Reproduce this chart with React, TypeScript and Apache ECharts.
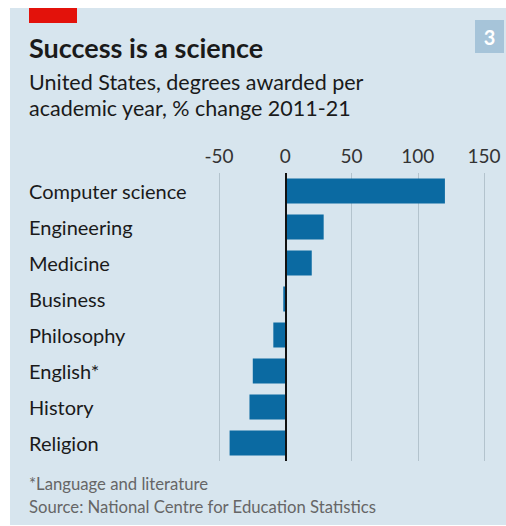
import React, { useEffect, useRef } from "react";
import * as echarts from "echarts";

const categories = [
  "Computer science",
  "Engineering",
  "Medicine",
  "Business",
  "Philosophy",
  "English*",
  "History",
  "Religion",
];
const values = [120.5, 29, 20, -1.5, -9, -24.5, -27, -42];
const tickValues = [-50, 0, 50, 100, 150];

const FONT = "Lato, 'Open Sans', sans-serif";

export default function App() {
  const ref = useRef<HTMLDivElement>(null);
  useEffect(() => {
    if (!ref.current) return;
    const chart = echarts.init(ref.current, null, { renderer: "svg" });
    chart.setOption({
      animation: false,
      backgroundColor: "#ffffff",
      textStyle: { fontFamily: FONT },
      graphic: [
        { type: "rect", z: -10, shape: { x: 10, y: 8, width: 496, height: 517 }, style: { fill: "#d7e5ee" } },
        { type: "rect", shape: { x: 29, y: 8, width: 48, height: 15 }, style: { fill: "#e3120b" } },
        { type: "rect", shape: { x: 475, y: 20, width: 29, height: 33 }, style: { fill: "#a6c4d9" } },
        { type: "text", x: 489.5, y: 37, style: { text: "3", fill: "#ffffff", font: `bold 20px ${FONT}`, align: "center", verticalAlign: "middle" } },
        { type: "text", x: 29, y: 47, style: { text: "Success is a science", fill: "#1a1a1a", font: `bold 27px ${FONT}`, verticalAlign: "middle" } },
        { type: "text", x: 29, y: 82, style: { text: "United States, degrees awarded per", fill: "#1a1a1a", font: `21.5px ${FONT}`, verticalAlign: "middle" } },
        { type: "text", x: 29, y: 108, style: { text: "academic year, % change 2011-21", fill: "#1a1a1a", font: `21.5px ${FONT}`, verticalAlign: "middle" } },
        { type: "text", x: 29, y: 484, style: { text: "*Language and literature", fill: "#666666", font: `16.7px ${FONT}`, verticalAlign: "middle" } },
        { type: "text", x: 29, y: 507, style: { text: "Source: National Centre for Education Statistics", fill: "#666666", font: `16.7px ${FONT}`, verticalAlign: "middle" } },
      ],
      grid: { left: 219, right: 22, top: 173, height: 288, containLabel: false },
      xAxis: {
        type: "value",
        position: "top",
        min: -50,
        max: 150,
        interval: 50,
        axisLine: { show: false },
        axisTick: { show: false },
        axisLabel: {
          show: true,
          color: "#333333",
          fontSize: 19,
          fontFamily: FONT,
          margin: 8,
          customValues: tickValues,
        },
        splitLine: { show: true, lineStyle: { color: "#b3c3cd", width: 1 } },
      },
      yAxis: {
        type: "category",
        data: categories,
        inverse: true,
        axisLine: { show: false },
        axisTick: { show: false },
        axisLabel: {
          color: "#1a1a1a",
          fontSize: 20,
          fontFamily: FONT,
          align: "left",
          margin: 190,
        },
        splitLine: { show: false },
      },
      series: [
        {
          type: "bar",
          data: values,
          barWidth: 25,
          itemStyle: { color: "#0b6aa2" },
          markLine: {
            silent: true,
            symbol: "none",
            label: { show: false },
            lineStyle: { color: "#111111", width: 2, type: "solid" },
            data: [{ xAxis: 0 }],
          },
        },
      ],
    });
    return () => chart.dispose();
  }, []);
  return (
    <div
      ref={ref}
      style={{ position: "fixed", left: 0, top: 0, width: 506, height: 526 }}
    />
  );
}
